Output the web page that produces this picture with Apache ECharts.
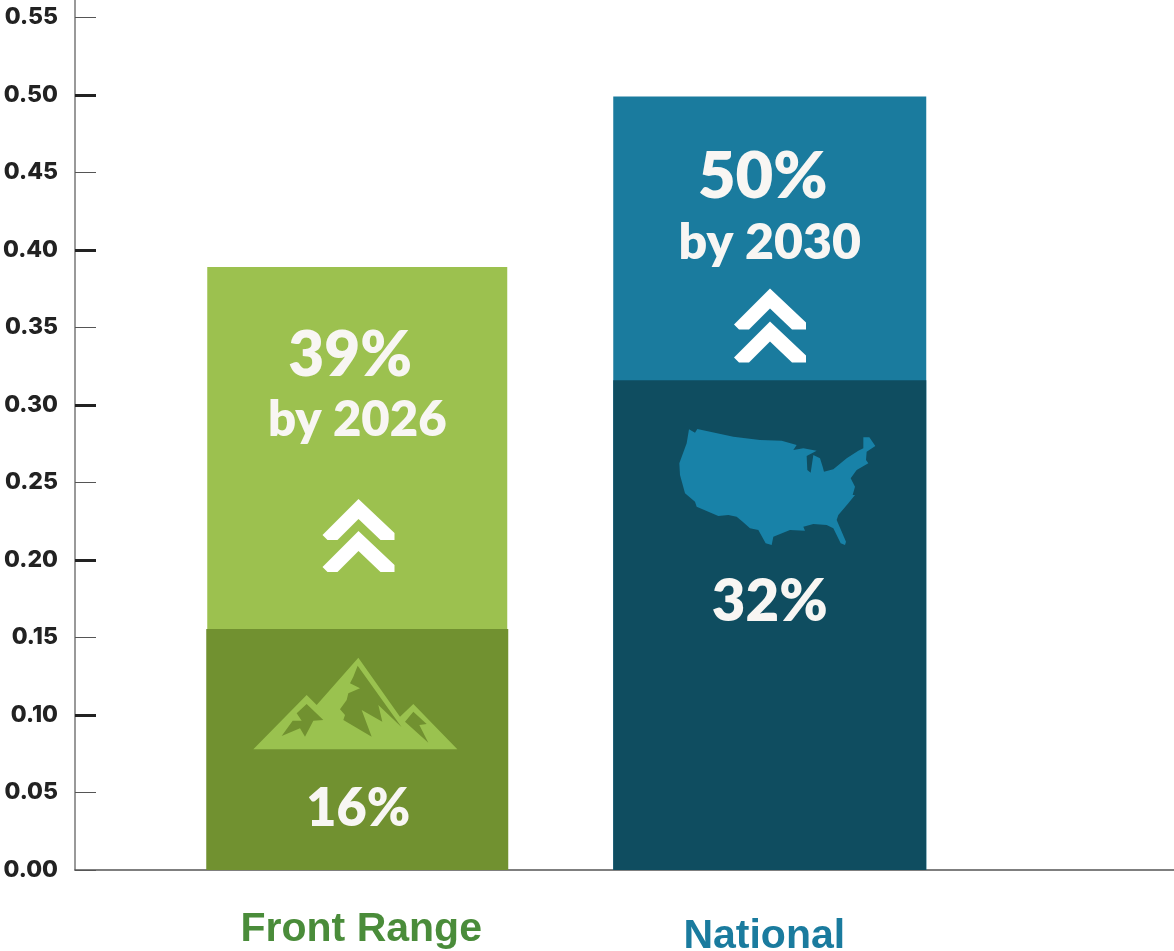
<!DOCTYPE html>
<html>
<head>
<meta charset="utf-8">
<title>Front Range vs National</title>
<style>
  html, body { margin: 0; padding: 0; background: #fff; }
  #chart { width: 1174px; height: 951px; }
</style>
<script src="https://cdn.jsdelivr.net/npm/echarts@6/dist/echarts.min.js"></script>
</head>
<body>
<div id="chart"></div>
<script>
const regions = ['Front Range', 'National'];
const currentValues = [0.1555, 0.316];
const targetValues = [0.389, 0.499];
const targetYears = ['by 2026', 'by 2030'];
const tickValues = [0, 0.05, 0.1, 0.15, 0.2, 0.25, 0.3, 0.35, 0.4, 0.45, 0.5, 0.55];
const majorTickValues = [0.1, 0.2, 0.3, 0.4, 0.5];

const AXIS_MAX = 0.5613; // line runs past the last tick up to the page edge
const FONT = 'Lato, "Noto Sans", sans-serif';
const WHITE = '#f8f6f3';

const barWidths = { target: [300, 313], current: [302, 313] };
const targetColors = ['#9cc14f', '#1a7b9e'];
const currentColors = ['#719130', '#0f4d60'];

/* icons: [x, y] in 3x crop coordinates */
const fromCrop = (pts, ox, oy) => pts.map(([x, y]) => [ox + x / 3, oy + y / 3]);

const mountainOutline = [[760,448],[920,285],[950,315],[1075,173],[1200,350],[1240,312],[1372,448]];
const mountainPeak = [[1073,197],[1205,382],[1135,315],[1147,365],[1085,330],[1115,410],[1030,360],[1035,345],[1020,328],[1040,300],[1045,280],[1080,265],[1050,250],[1060,230]];
const mountainLeft = [[920,312],[970,360],[940,362],[915,410],[900,385],[845,408],[878,362],[905,362],[890,340]];
const mountainRight = [[1240,335],[1280,372],[1258,375],[1285,428],[1215,365]];
const usaOutline = [[267,148],[285,158],[292,147],[400,170],[480,180],[545,182],[590,195],[580,210],[610,205],[650,212],[620,228],[622,270],[632,278],[640,225],[660,235],[668,260],[672,275],[700,268],[740,235],[775,212],[790,205],[790,172],[808,172],[826,198],[800,215],[798,240],[805,250],[770,270],[752,295],[765,320],[758,345],[765,345],[745,370],[715,405],[710,420],[738,485],[735,495],[722,490],[700,445],[680,435],[640,432],[610,440],[615,452],[570,450],[520,470],[515,495],[497,490],[475,450],[450,445],[428,425],[410,410],[385,405],[355,408],[290,380],[285,365],[255,340],[240,285],[238,250],[260,190]];

function polygon(points, fill) {
    return { type: 'polygon', z: 20, shape: { points }, style: { fill } };
}

function chevron(cx, top) {
    return polygon([
        [cx, top], [cx + 36, top + 34], [cx + 36, top + 41], [cx + 22, top + 41],
        [cx, top + 20], [cx - 21, top + 41], [cx - 31, top + 41], [cx - 36, top + 36]
    ], '#ffffff');
}

function barText(text, x, y, size) {
    return {
        type: 'text',
        style: {
            text, x, y,
            fill: WHITE,
            font: '800 ' + size + 'px ' + FONT,
            textAlign: 'center',
            textVerticalAlign: 'middle'
        }
    };
}

function barRect(api, width, fill) {
    const top = api.coord([api.value(0), api.value(1)]);
    const base = api.coord([api.value(0), 0]);
    return {
        top,
        rect: {
            type: 'rect',
            shape: { x: top[0] - width / 2, y: top[1], width, height: base[1] - top[1] },
            style: { fill }
        }
    };
}

const pct = (v) => Math.round(v * 100) + '%';

function renderTarget(params, api) {
    const i = params.dataIndex;
    const { top, rect } = barRect(api, barWidths.target[i], targetColors[i]);
    const size = i === 0 ? [62, 49] : [65, 50];
    const dy = i === 0 ? [89, 153] : [80, 146];
    return {
        type: 'group',
        children: [
            rect,
            barText(pct(api.value(1)), top[0] - 7, top[1] + dy[0], size[0]),
            barText(targetYears[i], top[0], top[1] + dy[1], size[1])
        ]
    };
}

function renderCurrent(params, api) {
    const i = params.dataIndex;
    const { top, rect } = barRect(api, barWidths.current[i], currentColors[i]);
    return {
        type: 'group',
        children: [
            rect,
            barText(pct(api.value(1)), top[0] + (i === 0 ? 1 : 0), top[1] + (i === 0 ? 180 : 222), i === 0 ? 52 : 58)
        ]
    };
}

const chart = echarts.init(document.getElementById('chart'), null, { renderer: 'canvas' });

const option = {
    animation: false,
    backgroundColor: '#ffffff',
    grid: [
        { left: 75, top: 0, width: 1099, height: 870, outerBoundsMode: 'none' }, // axes
        { left: 151, top: 0, width: 825, height: 870, outerBoundsMode: 'none' }  // bars
    ],
    xAxis: [
        {
            gridIndex: 0, type: 'value', min: 0, max: 1,
            axisLine: { show: true, onZero: false, lineStyle: { color: '#555555', width: 1.5 } },
            axisTick: { show: false }, axisLabel: { show: false }, splitLine: { show: false }
        },
        {
            gridIndex: 1, type: 'category', data: regions,
            axisLine: { show: false }, axisTick: { show: false },
            axisLabel: {
                margin: 39,
                interval: 0,
                hideOverlap: false,
                fontFamily: '"Liberation Sans", Arial, sans-serif',
                fontWeight: 'bold',
                fontSize: 41,
                formatter: (v) => v === 'National' ? '{nat|' + v + '}' : '{front|' + v + '}',
                rich: {
                    front: { color: '#4a8c3a', fontSize: 41, fontWeight: 'bold', padding: [0, 0, 0, 8] },
                    nat: { color: '#1a7b9e', fontSize: 41, fontWeight: 'bold', padding: [7, 11, 0, 0] }
                }
            }
        }
    ],
    yAxis: [
        {
            gridIndex: 0, type: 'value', position: 'left', min: 0, max: AXIS_MAX,
            axisLine: { show: true, lineStyle: { color: '#777777', width: 1.5 } },
            axisTick: {
                show: true, inside: true, length: 21,
                customValues: tickValues,
                lineStyle: { color: '#555555', width: 1 }
            },
            axisLabel: {
                margin: 17,
                customValues: tickValues,
                formatter: (v) => v.toFixed(2),
                color: '#222222',
                fontFamily: 'Inter, Lato, sans-serif',
                fontWeight: 800,
                fontSize: 23
            },
            splitLine: { show: false }
        },
        {
            gridIndex: 0, type: 'value', position: 'left', min: 0, max: AXIS_MAX,
            axisLine: { show: false },
            axisTick: {
                show: true, inside: true, length: 21,
                customValues: majorTickValues,
                lineStyle: { color: '#222222', width: 3 }
            },
            axisLabel: { show: false },
            splitLine: { show: false }
        },
        {
            gridIndex: 1, type: 'value', min: 0, max: AXIS_MAX,
            show: false
        }
    ],
    series: [
        {
            name: 'Target',
            type: 'custom',
            xAxisIndex: 1,
            yAxisIndex: 2,
            z: 5,
            clip: false,
            renderItem: renderTarget,
            encode: { x: 0, y: 1 },
            data: targetValues.map((v, i) => [i, v])
        },
        {
            name: 'Current',
            type: 'custom',
            xAxisIndex: 1,
            yAxisIndex: 2,
            z: 6,
            clip: false,
            renderItem: renderCurrent,
            encode: { x: 0, y: 1 },
            data: currentValues.map((v, i) => [i, v])
        }
    ],
    graphic: [
        chevron(358.5, 499), chevron(358.5, 531),
        chevron(770, 288.5), chevron(770, 321.5),
        polygon(fromCrop(mountainOutline, 0, 600), '#9ac24f'),
        polygon(fromCrop(mountainPeak, 0, 600), '#719130'),
        polygon(fromCrop(mountainLeft, 0, 600), '#719130'),
        polygon(fromCrop(mountainRight, 0, 600), '#719130'),
        polygon(fromCrop(usaOutline, 600, 380), '#1882a8')
    ]
};

chart.setOption(option);
</script>
</body>
</html>
